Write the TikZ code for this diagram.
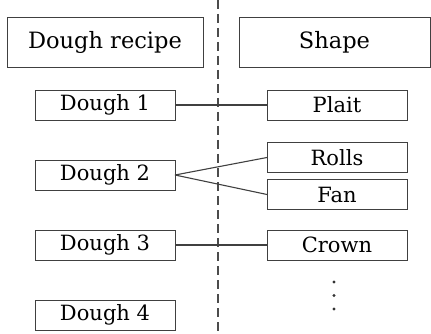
\documentclass[tikz,border=0pt]{standalone}
\usepackage{fontspec}
\setmainfont{DejaVu Serif}
\usepackage{tikz}
\usetikzlibrary{positioning}

\begin{document}
\begin{tikzpicture}[x=1pt, y=-1pt, node distance=40pt,
    head/.style={rectangle, draw=black!75, line width=0.9pt, outer sep=0pt, minimum width=196pt, minimum height=50pt, inner sep=0pt, font=\fontsize{22.5}{26}\selectfont},
    item/.style={rectangle, draw=black!75, line width=0.9pt, outer sep=0pt, minimum width=140pt, minimum height=30pt, inner sep=0pt, font=\fontsize{21}{24}\selectfont},
    link/.style={draw=black!75, line width=1.1pt},
    dot/.style={circle, fill=black!80, inner sep=0pt, minimum size=3.4pt},
    divider/.style={draw=black!70, line width=1.2pt, dash pattern=on 9pt off 5pt}]

    \useasboundingbox (0,0) rectangle (431,334);

    \coordinate (divtop) at (218,0);
    \coordinate (divbottom) at (218,334);
    \draw[divider] (divtop) -- (divbottom);

    \node[head] (recipe) at (105,42) {Dough recipe};
    \node[head, minimum width=191pt] (shape) at (334.5,42) {Shape};

    \node[item, below=23pt of recipe] (dough1) {Dough 1};
    \node[item, below=of dough1] (dough2) {Dough 2};
    \node[item, below=of dough2] (dough3) {Dough 3};
    \node[item, below=of dough3] (dough4) {Dough 4};

    \node[item, right=92pt of dough1] (plait) {Plait};
    \node[item, below=22.5pt of plait] (rolls) {Rolls};
    \node[item, below=7pt of rolls] (fan) {Fan};
    \node[item, right=92pt of dough3] (crown) {Crown};

    % vertical ellipsis under Crown
    \foreach \i/\y in {1/282,2/295.5,3/309}
        \node[dot] (more\i) at (334,\y) {};

    \draw[link] (dough1) -- (plait);
    \draw[link] (dough2.east) -- (rolls.west);
    \draw[link] (dough2.east) -- (fan.west);
    \draw[link] (dough3) -- (crown);

\end{tikzpicture}
\end{document}
